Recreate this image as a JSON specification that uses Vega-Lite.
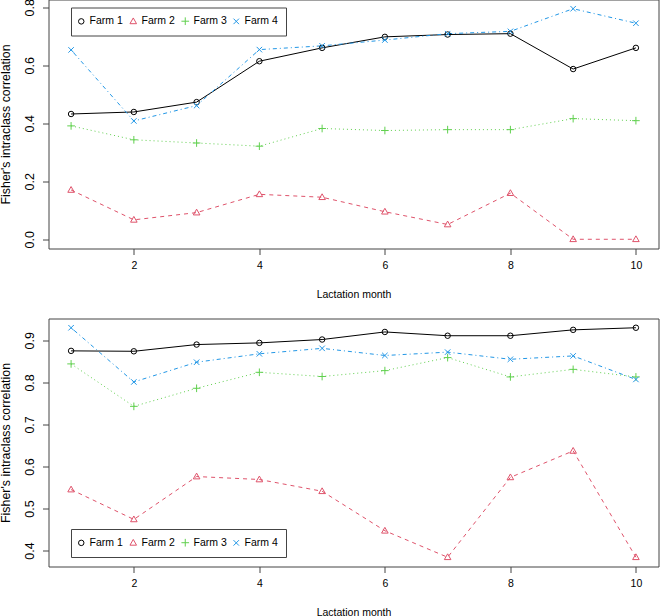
{
  "$schema": "https://vega.github.io/schema/vega-lite/v6.json",
  "padding": {"left": -2.5, "top": -2.5, "right": 0, "bottom": 0},
  "background": "white",
  "datasets": {
    "upper": [
      {"month": 1, "farm": "Farm 1", "r": 0.432}, {"month": 2, "farm": "Farm 1", "r": 0.439},
      {"month": 3, "farm": "Farm 1", "r": 0.473}, {"month": 4, "farm": "Farm 1", "r": 0.614},
      {"month": 5, "farm": "Farm 1", "r": 0.660}, {"month": 6, "farm": "Farm 1", "r": 0.698},
      {"month": 7, "farm": "Farm 1", "r": 0.706}, {"month": 8, "farm": "Farm 1", "r": 0.709},
      {"month": 9, "farm": "Farm 1", "r": 0.587}, {"month": 10, "farm": "Farm 1", "r": 0.660},
      {"month": 1, "farm": "Farm 2", "r": 0.170}, {"month": 2, "farm": "Farm 2", "r": 0.067},
      {"month": 3, "farm": "Farm 2", "r": 0.092}, {"month": 4, "farm": "Farm 2", "r": 0.155},
      {"month": 5, "farm": "Farm 2", "r": 0.145}, {"month": 6, "farm": "Farm 2", "r": 0.095},
      {"month": 7, "farm": "Farm 2", "r": 0.051}, {"month": 8, "farm": "Farm 2", "r": 0.159},
      {"month": 9, "farm": "Farm 2", "r": 0.000}, {"month": 10, "farm": "Farm 2", "r": 0.000},
      {"month": 1, "farm": "Farm 3", "r": 0.391}, {"month": 2, "farm": "Farm 3", "r": 0.343},
      {"month": 3, "farm": "Farm 3", "r": 0.332}, {"month": 4, "farm": "Farm 3", "r": 0.321},
      {"month": 5, "farm": "Farm 3", "r": 0.382}, {"month": 6, "farm": "Farm 3", "r": 0.375},
      {"month": 7, "farm": "Farm 3", "r": 0.378}, {"month": 8, "farm": "Farm 3", "r": 0.378},
      {"month": 9, "farm": "Farm 3", "r": 0.416}, {"month": 10, "farm": "Farm 3", "r": 0.409},
      {"month": 1, "farm": "Farm 4", "r": 0.653}, {"month": 2, "farm": "Farm 4", "r": 0.408},
      {"month": 3, "farm": "Farm 4", "r": 0.461}, {"month": 4, "farm": "Farm 4", "r": 0.654},
      {"month": 5, "farm": "Farm 4", "r": 0.667}, {"month": 6, "farm": "Farm 4", "r": 0.687},
      {"month": 7, "farm": "Farm 4", "r": 0.709}, {"month": 8, "farm": "Farm 4", "r": 0.717},
      {"month": 9, "farm": "Farm 4", "r": 0.795}, {"month": 10, "farm": "Farm 4", "r": 0.745}
    ],
    "lower": [
      {"month": 1, "farm": "Farm 1", "r": 0.875}, {"month": 2, "farm": "Farm 1", "r": 0.874},
      {"month": 3, "farm": "Farm 1", "r": 0.890}, {"month": 4, "farm": "Farm 1", "r": 0.894},
      {"month": 5, "farm": "Farm 1", "r": 0.902}, {"month": 6, "farm": "Farm 1", "r": 0.920},
      {"month": 7, "farm": "Farm 1", "r": 0.911}, {"month": 8, "farm": "Farm 1", "r": 0.911},
      {"month": 9, "farm": "Farm 1", "r": 0.925}, {"month": 10, "farm": "Farm 1", "r": 0.930},
      {"month": 1, "farm": "Farm 2", "r": 0.545}, {"month": 2, "farm": "Farm 2", "r": 0.474},
      {"month": 3, "farm": "Farm 2", "r": 0.576}, {"month": 4, "farm": "Farm 2", "r": 0.569},
      {"month": 5, "farm": "Farm 2", "r": 0.541}, {"month": 6, "farm": "Farm 2", "r": 0.447},
      {"month": 7, "farm": "Farm 2", "r": 0.384}, {"month": 8, "farm": "Farm 2", "r": 0.574},
      {"month": 9, "farm": "Farm 2", "r": 0.637}, {"month": 10, "farm": "Farm 2", "r": 0.384},
      {"month": 1, "farm": "Farm 3", "r": 0.844}, {"month": 2, "farm": "Farm 3", "r": 0.743},
      {"month": 3, "farm": "Farm 3", "r": 0.786}, {"month": 4, "farm": "Farm 3", "r": 0.824},
      {"month": 5, "farm": "Farm 3", "r": 0.814}, {"month": 6, "farm": "Farm 3", "r": 0.828},
      {"month": 7, "farm": "Farm 3", "r": 0.859}, {"month": 8, "farm": "Farm 3", "r": 0.813},
      {"month": 9, "farm": "Farm 3", "r": 0.831}, {"month": 10, "farm": "Farm 3", "r": 0.813},
      {"month": 1, "farm": "Farm 4", "r": 0.930}, {"month": 2, "farm": "Farm 4", "r": 0.801},
      {"month": 3, "farm": "Farm 4", "r": 0.848}, {"month": 4, "farm": "Farm 4", "r": 0.868},
      {"month": 5, "farm": "Farm 4", "r": 0.881}, {"month": 6, "farm": "Farm 4", "r": 0.864},
      {"month": 7, "farm": "Farm 4", "r": 0.872}, {"month": 8, "farm": "Farm 4", "r": 0.855},
      {"month": 9, "farm": "Farm 4", "r": 0.863}, {"month": 10, "farm": "Farm 4", "r": 0.807}
    ]
  },
  "spacing": 17,
  "vconcat": [
    {
      "width": 610,
      "height": 249,
      "data": {"name": "upper"},
      "encoding": {
        "x": {"field": "month", "type": "quantitative",
              "scale": {"domain": [0.64, 10.36], "nice": false, "zero": false},
              "axis": {"values": [2, 4, 6, 8, 10], "title": "Lactation month"}},
        "y": {"field": "r", "type": "quantitative",
              "scale": {"domain": [-0.0318, 0.8268], "nice": false, "zero": false},
              "axis": {"values": [0, 0.2, 0.4, 0.6, 0.8], "format": ".1f", "title": "Fisher's intraclass correlation"}}
      },
      "layer": [
        {"transform": [{"filter": "datum.farm === 'Farm 1'"}],
         "mark": {"type": "line", "color": "#000000", "strokeWidth": 1}},
        {"transform": [{"filter": "datum.farm === 'Farm 2'"}],
         "mark": {"type": "line", "color": "#DF536B", "strokeWidth": 1, "strokeDash": [4, 4]}},
        {"transform": [{"filter": "datum.farm === 'Farm 3'"}],
         "mark": {"type": "line", "color": "#61D04F", "strokeWidth": 1, "strokeDash": [1, 3]}},
        {"transform": [{"filter": "datum.farm === 'Farm 4'"}],
         "mark": {"type": "line", "color": "#2297E6", "strokeWidth": 1, "strokeDash": [1, 3, 4, 3]}},
        {"mark": {"type": "point", "filled": false, "strokeWidth": 1, "size": 30, "opacity": 1},
         "encoding": {
           "color": {"field": "farm", "type": "nominal",
                     "scale": {"domain": ["Farm 1", "Farm 2", "Farm 3", "Farm 4"], "range": ["#000000", "#DF536B", "#61D04F", "#2297E6"]},
                     "legend": {"orient": "none", "legendX": 22.5, "legendY": 8, "direction": "horizontal", "columns": 4}},
           "shape": {"field": "farm", "type": "nominal",
                      "scale": {"domain": ["Farm 1", "Farm 2", "Farm 3", "Farm 4"],
                                "range": ["circle", "M0,-1.25L1.2,0.85L-1.2,0.85Z", "M-1.4,0L1.4,0M0,-1.4L0,1.4", "M-1,-1L1,1M-1,1L1,-1"]},
                      "legend": {"orient": "none", "legendX": 22.5, "legendY": 8, "direction": "horizontal", "columns": 4}}}}
      ]
    },
    {
      "width": 610,
      "height": 248,
      "data": {"name": "lower"},
      "encoding": {
        "x": {"field": "month", "type": "quantitative",
              "scale": {"domain": [0.64, 10.36], "nice": false, "zero": false},
              "axis": {"values": [2, 4, 6, 8, 10], "title": "Lactation month"}},
        "y": {"field": "r", "type": "quantitative",
              "scale": {"domain": [0.362, 0.952], "nice": false, "zero": false},
              "axis": {"values": [0.4, 0.5, 0.6, 0.7, 0.8, 0.9], "format": ".1f", "title": "Fisher's intraclass correlation"}}
      },
      "layer": [
        {"transform": [{"filter": "datum.farm === 'Farm 1'"}],
         "mark": {"type": "line", "color": "#000000", "strokeWidth": 1}},
        {"transform": [{"filter": "datum.farm === 'Farm 2'"}],
         "mark": {"type": "line", "color": "#DF536B", "strokeWidth": 1, "strokeDash": [4, 4]}},
        {"transform": [{"filter": "datum.farm === 'Farm 3'"}],
         "mark": {"type": "line", "color": "#61D04F", "strokeWidth": 1, "strokeDash": [1, 3]}},
        {"transform": [{"filter": "datum.farm === 'Farm 4'"}],
         "mark": {"type": "line", "color": "#2297E6", "strokeWidth": 1, "strokeDash": [1, 3, 4, 3]}},
        {"mark": {"type": "point", "filled": false, "strokeWidth": 1, "size": 30, "opacity": 1},
         "encoding": {
           "color": {"field": "farm", "type": "nominal",
                     "scale": {"domain": ["Farm 1", "Farm 2", "Farm 3", "Farm 4"], "range": ["#000000", "#DF536B", "#61D04F", "#2297E6"]},
                     "legend": {"orient": "none", "legendX": 22.5, "legendY": 210.5, "direction": "horizontal", "columns": 4}},
           "shape": {"field": "farm", "type": "nominal",
                      "scale": {"domain": ["Farm 1", "Farm 2", "Farm 3", "Farm 4"],
                                "range": ["circle", "M0,-1.25L1.2,0.85L-1.2,0.85Z", "M-1.4,0L1.4,0M0,-1.4L0,1.4", "M-1,-1L1,1M-1,1L1,-1"]},
                      "legend": {"orient": "none", "legendX": 22.5, "legendY": 210.5, "direction": "horizontal", "columns": 4}}}}
      ]
    }
  ],
  "resolve": {"scale": {"y": "independent", "color": "independent", "shape": "independent"}, "legend": {"color": "independent", "shape": "independent"}},
  "config": {
    "font": "Liberation Sans",
    "view": {"stroke": "#444444", "strokeWidth": 1},
    "axis": {
      "domain": false, "grid": false, "ticks": true, "tickSize": 6, "tickColor": "#444444",
      "labelFont": "Liberation Sans", "labelFontSize": 10.5, "labelColor": "#000000",
      "titleFont": "Liberation Sans", "titleFontSize": 10.5, "titleFontWeight": "normal", "titleColor": "#000000"
    },
    "axisX": {"labelPadding": 6, "titlePadding": 18},
    "axisY": {"labelAngle": -90, "labelAlign": "center", "labelBaseline": "middle", "labelPadding": 13.5, "labelFontSize": 12.5, "titleFontSize": 12.4, "titlePadding": 11},
    "legend": {
      "title": null, "strokeColor": "#444444", "padding": 8, "fillColor": "white",
      "labelFont": "Liberation Sans", "labelFontSize": 10.5, "labelColor": "#000000",
      "symbolSize": 30, "symbolStrokeWidth": 1, "labelOffset": 3, "columnPadding": 4, "symbolOffset": -3, "symbolFillColor": "transparent"
    }
  }
}
